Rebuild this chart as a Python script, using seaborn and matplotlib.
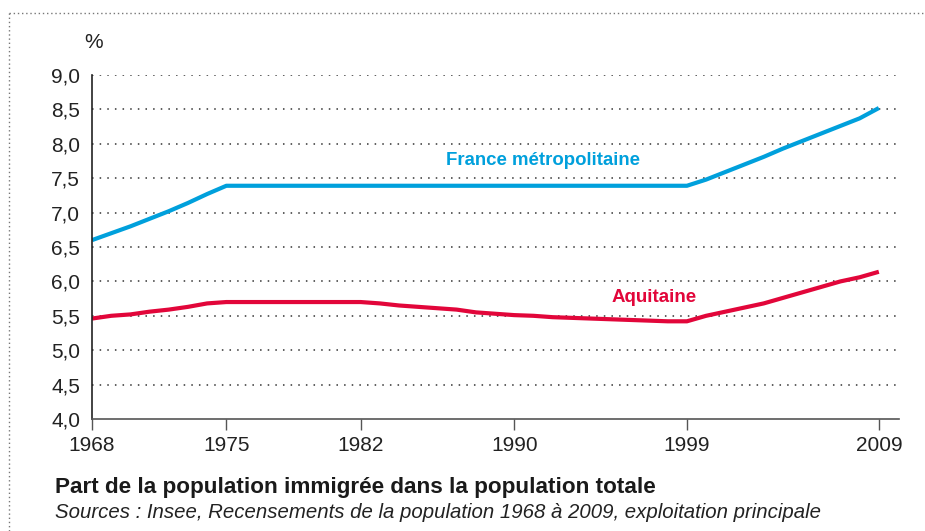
import numpy as np
import pandas as pd
import seaborn as sns
import matplotlib.pyplot as plt
from matplotlib.lines import Line2D

years = list(range(1968, 2010))
france = [6.60, 6.70, 6.80, 6.91, 7.02, 7.14, 7.27, 7.39,
          7.39, 7.39, 7.39, 7.39, 7.39, 7.39, 7.39, 7.39, 7.39, 7.39,
          7.39, 7.39, 7.39, 7.39, 7.39, 7.39, 7.39, 7.39, 7.39, 7.39,
          7.39, 7.39, 7.39, 7.39,
          7.48, 7.59, 7.70, 7.81, 7.93, 8.04, 8.15, 8.26, 8.37, 8.52]
aquitaine = [5.46, 5.50, 5.52, 5.56, 5.59, 5.63, 5.68, 5.70,
             5.70, 5.70, 5.70, 5.70, 5.70, 5.70, 5.70,
             5.68, 5.65, 5.63, 5.61, 5.59, 5.55, 5.53, 5.51, 5.50,
             5.48, 5.47, 5.46, 5.45, 5.44, 5.43, 5.42, 5.42,
             5.50, 5.56, 5.62, 5.68, 5.76, 5.84, 5.92, 6.00, 6.06, 6.14]
series_names = ['France métropolitaine', 'Aquitaine']
tick_years = [1968, 1975, 1982, 1990, 1999, 2009]
y_ticks = [4.0, 4.5, 5.0, 5.5, 6.0, 6.5, 7.0, 7.5, 8.0, 8.5, 9.0]

colors = {'France métropolitaine': '#00A0DC', 'Aquitaine': '#E2063A'}

df = pd.DataFrame({
    'annee': years * 2,
    'part': france + aquitaine,
    'zone': [series_names[0]] * len(years) + [series_names[1]] * len(years),
})

sns.set_theme(style='white')
plt.rcParams['font.family'] = ['Liberation Sans', 'DejaVu Sans']

fig = plt.figure(figsize=(9.25, 5.31), dpi=100)
ax = fig.add_axes([92 / 925, 1 - 419 / 531, (899 - 92) / 925, (419 - 75) / 531])

sns.lineplot(data=df, x='annee', y='part', hue='zone', palette=colors,
             linewidth=3, legend=False, ax=ax)
for ln in ax.get_lines():
    ln.set_solid_capstyle('butt')

ax.set_xlim(1968, 2010.05)
ax.set_ylim(4.0, 9.0)
ax.set_xticks(tick_years)
ax.set_xticklabels([str(y) for y in tick_years])
ax.set_yticks(y_ticks)
ax.set_yticklabels([f'{v:.1f}'.replace('.', ',') for v in y_ticks])
ax.set_xlabel('')
ax.set_ylabel('')

for v in y_ticks[1:]:
    ax.axhline(v, color='#333333', lw=1.1, ls=(0, (1, 4)), zorder=0)

for s in ['top', 'right']:
    ax.spines[s].set_visible(False)
ax.spines['left'].set_color('#222222')
ax.spines['left'].set_linewidth(1.2)
ax.spines['bottom'].set_color('#555555')
ax.spines['bottom'].set_linewidth(1.2)

ax.tick_params(axis='x', which='major', direction='out', length=8, width=1,
               color='#555555', labelsize=15, labelcolor='#222222', pad=4, bottom=True)
ax.tick_params(axis='y', which='major', length=0, labelsize=15,
               labelcolor='#222222', pad=8.5)

ax.text(1991.5, 7.76, 'France métropolitaine', color=colors['France métropolitaine'],
        fontsize=13.4, fontweight='bold', ha='center', va='center')
ax.text(1997.3, 5.77, 'Aquitaine', color=colors['Aquitaine'],
        fontsize=13.5, fontweight='bold', ha='center', va='center')

fig.text(94 / 925, 1 - 43 / 531, '%', fontsize=15, color='#222222', ha='center', va='center')
fig.text(55 / 925, 1 - 487 / 531, 'Part de la population immigrée dans la population totale',
         fontsize=16.2, fontweight='bold', color='#1a1a1a', ha='left', va='center')
fig.text(55 / 925, 1 - 512 / 531,
         'Sources : Insee, Recensements de la population 1968 à 2009, exploitation principale',
         fontsize=14.7, style='italic', color='#222222', ha='left', va='center')

# dotted frame
fig.add_artist(Line2D([9 / 925, 1], [1 - 13 / 531] * 2, color='#777777', lw=1,
                      ls=(0, (1, 2)), transform=fig.transFigure))
fig.add_artist(Line2D([9 / 925] * 2, [0, 1 - 13 / 531], color='#777777', lw=1,
                      ls=(0, (1, 2)), transform=fig.transFigure))

fig.savefig('out.png', dpi=100)
